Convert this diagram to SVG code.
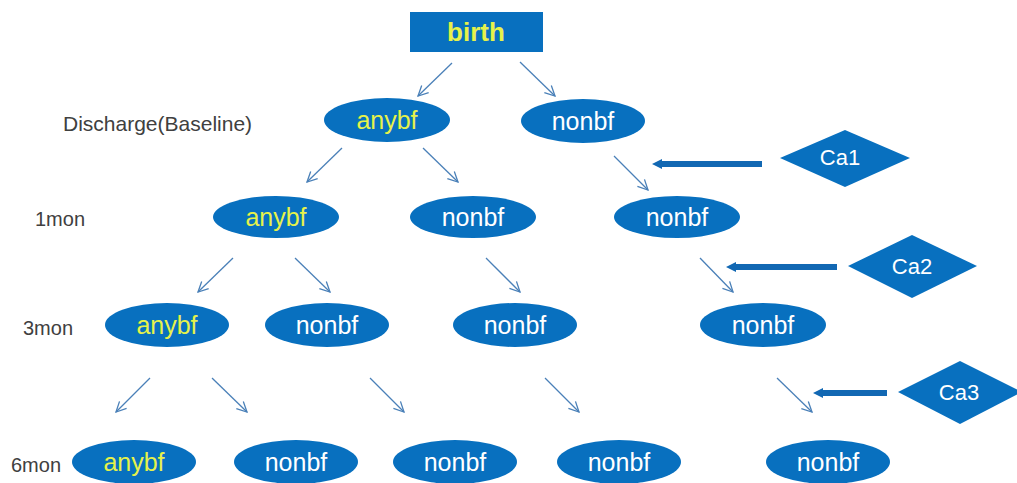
<svg xmlns="http://www.w3.org/2000/svg" width="1017" height="483" viewBox="0 0 1017 483">
<style>
.n{fill:#0870BF}
.t{font-family:"Liberation Sans",Arial,sans-serif;font-size:25px;fill:#ffffff;text-anchor:middle;dominant-baseline:central}
.ca{font-size:22px}
.y{fill:#E6F24A}
.lbl{font-family:"Liberation Sans",Arial,sans-serif;font-size:20px;fill:#404040}
.c{stroke:#4A80B8;stroke-width:1.3;fill:none;marker-end:url(#ah)}
.k{stroke:#1268B3;stroke-width:6;fill:none;marker-end:url(#bh)}
</style>
<defs>
<marker id="ah" viewBox="0 0 12 12" refX="11" refY="6" markerWidth="12" markerHeight="12" markerUnits="userSpaceOnUse" orient="auto">
<path d="M1,1 L11,6 L1,11" fill="none" stroke="#4A80B8" stroke-width="1.3"/>
</marker>
<marker id="bh" viewBox="0 0 10 10" refX="2" refY="5" markerWidth="10" markerHeight="10" markerUnits="userSpaceOnUse" orient="auto">
<path d="M0,0 L10,5 L0,10 Z" fill="#1268B3"/>
</marker>
</defs>
<rect width="1017" height="483" fill="#ffffff"/>
<g id="labels">
<text class="lbl" x="63" y="131" style="font-size:21px">Discharge(Baseline)</text>
<text class="lbl" x="35" y="226">1mon</text>
<text class="lbl" x="23" y="335">3mon</text>
<text class="lbl" x="11" y="472">6mon</text>
</g>
<g id="connectors">
<line class="c" x1="452" y1="63" x2="418" y2="96"/>
<line class="c" x1="520" y1="62" x2="555" y2="96"/>
<line class="c" x1="342" y1="148" x2="307" y2="182"/>
<line class="c" x1="423" y1="148" x2="458" y2="182"/>
<line class="c" x1="614" y1="156" x2="648" y2="190"/>
<line class="c" x1="233" y1="258" x2="198" y2="292"/>
<line class="c" x1="295" y1="258" x2="330" y2="292"/>
<line class="c" x1="486" y1="258" x2="520" y2="292"/>
<line class="c" x1="700" y1="258" x2="733" y2="292"/>
<line class="c" x1="150" y1="378" x2="116" y2="412"/>
<line class="c" x1="212" y1="378" x2="247" y2="412"/>
<line class="c" x1="370" y1="378" x2="404" y2="412"/>
<line class="c" x1="545" y1="378" x2="579" y2="412"/>
<line class="c" x1="777" y1="378" x2="812" y2="412"/>
<line class="k" x1="762" y1="164" x2="660" y2="164"/>
<line class="k" x1="837" y1="267" x2="734" y2="267"/>
<line class="k" x1="887" y1="393" x2="821" y2="393"/>
</g>
<g id="birth"><rect class="n" x="410" y="12" width="133" height="40"/><text class="t y" x="476" y="32" style="font-weight:bold;font-size:26px">birth</text></g>
<g id="d_anybf"><ellipse class="n" cx="387" cy="120" rx="63" ry="22"/><text class="t y" x="387" y="120">anybf</text></g>
<g id="d_nonbf"><ellipse class="n" cx="583" cy="121" rx="62" ry="22"/><text class="t" x="583" y="121">nonbf</text></g>
<g id="m1_anybf"><ellipse class="n" cx="276" cy="217" rx="63" ry="21"/><text class="t y" x="276" y="217">anybf</text></g>
<g id="m1_nonbf1"><ellipse class="n" cx="473" cy="217" rx="63" ry="21"/><text class="t" x="473" y="217">nonbf</text></g>
<g id="m1_nonbf2"><ellipse class="n" cx="677" cy="217" rx="63" ry="21"/><text class="t" x="677" y="217">nonbf</text></g>
<g id="m3_anybf"><ellipse class="n" cx="167" cy="325" rx="62" ry="22"/><text class="t y" x="167" y="325">anybf</text></g>
<g id="m3_nonbf1"><ellipse class="n" cx="327" cy="325" rx="62" ry="22"/><text class="t" x="327" y="325">nonbf</text></g>
<g id="m3_nonbf2"><ellipse class="n" cx="515" cy="325" rx="62" ry="22"/><text class="t" x="515" y="325">nonbf</text></g>
<g id="m3_nonbf3"><ellipse class="n" cx="763" cy="325" rx="63" ry="22"/><text class="t" x="763" y="325">nonbf</text></g>
<g id="m6_anybf"><ellipse class="n" cx="134" cy="462" rx="62" ry="22"/><text class="t y" x="134" y="462">anybf</text></g>
<g id="m6_nonbf1"><ellipse class="n" cx="296" cy="462" rx="62" ry="22"/><text class="t" x="296" y="462">nonbf</text></g>
<g id="m6_nonbf2"><ellipse class="n" cx="455" cy="462" rx="62" ry="22"/><text class="t" x="455" y="462">nonbf</text></g>
<g id="m6_nonbf3"><ellipse class="n" cx="619" cy="462" rx="62" ry="22"/><text class="t" x="619" y="462">nonbf</text></g>
<g id="m6_nonbf4"><ellipse class="n" cx="828" cy="462" rx="62" ry="22"/><text class="t" x="828" y="462">nonbf</text></g>
<g id="ca1"><polygon class="n" points="780,158 845,130 910,158 845,187"/><text class="t ca" x="840" y="157">Ca1</text></g>
<g id="ca2"><polygon class="n" points="848,266 912,235 977,266 912,298"/><text class="t ca" x="912" y="266">Ca2</text></g>
<g id="ca3"><polygon class="n" points="898,392 960,361 1022,392 960,424"/><text class="t ca" x="959" y="392">Ca3</text></g>
</svg>
